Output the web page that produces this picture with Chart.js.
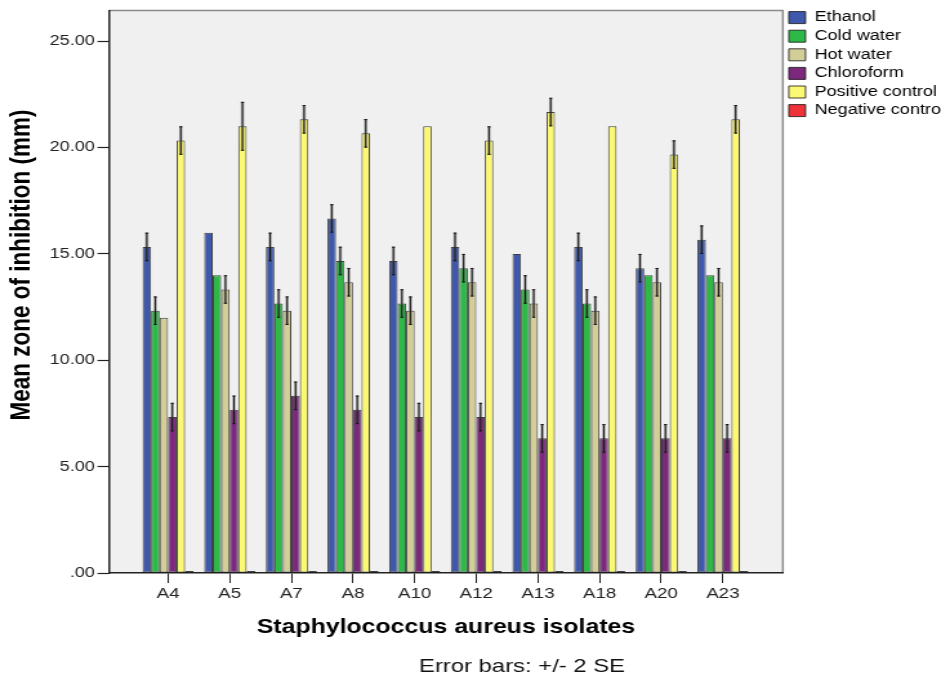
<!DOCTYPE html>
<html>
<head>
<meta charset="utf-8">
<script src="https://cdn.jsdelivr.net/npm/chart.js@4.4.1/dist/chart.umd.min.js"></script>
<style>
    html, body { margin: 0; padding: 0; background: #fff; overflow: hidden; }
    /* the reference is a horizontally stretched SPSS export, so stretch the canvas the same way */
    #wrap { width: 730px; height: 681px; transform: scaleX(1.289); transform-origin: 0 0; }
</style>
</head>
<body>
<div id="wrap"><canvas id="chart" width="730" height="681"></canvas></div>
<script>
const isolates = ['A4', 'A5', 'A7', 'A8', 'A10', 'A12', 'A13', 'A18', 'A20', 'A23'];
const seriesNames = ['Ethanol', 'Cold water', 'Hot water', 'Chloroform', 'Positive control', 'Negative contro'];

// mean zone of inhibition (mm)
const ethanol    = [15.33, 16.00, 15.33, 16.67, 14.67, 15.33, 15.00, 15.33, 14.33, 15.67];
const coldWater  = [12.33, 14.00, 12.67, 14.67, 12.67, 14.33, 13.33, 12.67, 14.00, 14.00];
const hotWater   = [12.00, 13.33, 12.33, 13.67, 12.33, 13.67, 12.67, 12.33, 13.67, 13.67];
const chloroform = [7.33, 7.67, 8.33, 7.67, 7.33, 7.33, 6.33, 6.33, 6.33, 6.33];
const positive   = [20.33, 21.00, 21.33, 20.67, 21.00, 20.33, 21.67, 21.00, 19.67, 21.33];
const negative   = [0, 0, 0, 0, 0, 0, 0, 0, 0, 0];

// +/- 2 SE
const ethanolErr    = [0.67, 0, 0.67, 0.67, 0.67, 0.67, 0, 0.67, 0.67, 0.67];
const coldWaterErr  = [0.67, 0, 0.67, 0.67, 0.67, 0.67, 0.67, 0.67, 0, 0];
const hotWaterErr   = [0, 0.67, 0.67, 0.67, 0.67, 0.67, 0.67, 0.67, 0.67, 0.67];
const chloroformErr = [0.67, 0.67, 0.67, 0.67, 0.67, 0.67, 0.67, 0.67, 0.67, 0.67];
const positiveErr   = [0.67, 1.15, 0.67, 0.67, 0, 0.67, 0.67, 0, 0.67, 0.67];
const negativeErr   = [0, 0, 0, 0, 0, 0, 0, 0, 0, 0];

const yTicks = [0, 5, 10, 15, 20, 25];

const colors = ['#3E58AC', '#2EB848', '#D3CE97', '#7C287D', '#FBF873', '#EF3338'];
const FONT = "'Liberation Sans', Arial, sans-serif";

const seriesValues = [ethanol, coldWater, hotWater, chloroform, positive, negative];
const seriesErrors = [ethanolErr, coldWaterErr, hotWaterErr, chloroformErr, positiveErr, negativeErr];

const datasets = seriesNames.map((name, d) => ({
    label: name,
    data: seriesValues[d].map((v, i) => ({ x: i, y: v })),
    errors: seriesErrors[d],
    backgroundColor: colors[d],
    borderColor: 'rgba(20, 20, 20, 0.8)',
    borderWidth: 1,
    borderSkipped: false,
    minBarLength: d === 5 ? 2 : 0,
    categoryPercentage: 0.827,
    barPercentage: 1,
}));

// gray plot background + light top/right frame
const plotFrame = {
    id: 'plotFrame',
    beforeDraw: (chart) => {
        const { ctx, chartArea: a } = chart;
        ctx.save();
        ctx.fillStyle = '#F0F0F0';
        ctx.fillRect(a.left, a.top, a.right - a.left, a.bottom - a.top);
        ctx.strokeStyle = '#8a8a8a';
        ctx.lineWidth = 1.5;
        ctx.beginPath();
        ctx.moveTo(a.left, a.top);
        ctx.lineTo(a.right, a.top);
        ctx.lineTo(a.right, a.bottom);
        ctx.stroke();
        ctx.restore();
    }
};

const errorBars = {
    id: 'errorBars',
    afterDatasetsDraw: (chart) => {
        const { ctx, scales: { y } } = chart;
        ctx.save();
        chart.data.datasets.forEach((ds, d) => {
            const meta = chart.getDatasetMeta(d);
            meta.data.forEach((bar, i) => {
                const err = ds.errors[i];
                if (!err) return;
                const value = ds.data[i].y;
                const top = y.getPixelForValue(value + err);
                const bottom = y.getPixelForValue(value - err);
                // soft halo first, then the dark line
                ctx.strokeStyle = 'rgba(90, 90, 90, 0.45)';
                ctx.lineWidth = 2.6;
                ctx.beginPath();
                ctx.moveTo(bar.x, top);
                ctx.lineTo(bar.x, bottom);
                ctx.stroke();
                ctx.strokeStyle = '#151515';
                ctx.lineWidth = 1;
                ctx.beginPath();
                ctx.moveTo(bar.x, top);
                ctx.lineTo(bar.x, bottom);
                ctx.moveTo(bar.x - 1.2, top + 0.5);
                ctx.lineTo(bar.x + 1.2, top + 0.5);
                ctx.moveTo(bar.x - 1.2, bottom - 0.5);
                ctx.lineTo(bar.x + 1.2, bottom - 0.5);
                ctx.stroke();
            });
        });
        ctx.restore();
    }
};

// y title (sits a bit above the plot centre) and the footer note
const extraText = {
    id: 'extraText',
    afterDraw: (chart) => {
        const { ctx } = chart;
        ctx.save();
        ctx.fillStyle = '#000';
        ctx.textAlign = 'center';
        ctx.textBaseline = 'middle';
        ctx.translate(17, 265);
        ctx.rotate(-Math.PI / 2);
        ctx.font = `bold 22.5px ${FONT}`;
        ctx.fillText('Mean zone of inhibition (mm)', 0, 0);
        ctx.restore();

        ctx.save();
        ctx.fillStyle = '#111';
        ctx.textAlign = 'center';
        ctx.textBaseline = 'middle';
        ctx.font = `18.5px ${FONT}`;
        ctx.fillText('Error bars: +/- 2 SE', 405, 667);
        ctx.restore();
    }
};

new Chart(document.getElementById('chart'), {
    type: 'bar',
    data: { datasets },
    plugins: [plotFrame, errorBars, extraText],
    options: {
        responsive: false,
        devicePixelRatio: 1,
        animation: false,
        layout: { padding: { top: 6, right: -10, bottom: 0, left: 0 } },
        plugins: {
            legend: {
                position: 'right',
                align: 'start',
                labels: {
                    boxWidth: 13,
                    boxHeight: 12,
                    padding: 4.6,
                    color: '#000',
                    font: { family: FONT, size: 14 },
                },
            },
            tooltip: { enabled: false },
        },
        scales: {
            x: {
                type: 'linear',
                bounds: 'data',
                offset: false,
                min: -0.957,
                max: 9.973,
                afterBuildTicks: (scale) => {
                    scale.ticks = isolates.map((_, i) => ({ value: i }));
                },
                afterFit: (scale) => { scale.height = 108; },
                ticks: {
                    autoSkip: false,
                    maxRotation: 0,
                    padding: 2,
                    color: '#222',
                    font: { family: FONT, size: 14.5 },
                    callback: (value) => isolates[value],
                },
                grid: { offset: false, drawOnChartArea: false, tickLength: 10, color: '#222', tickWidth: 1 },
                border: { display: true, color: '#222', width: 1.5 },
                title: {
                    display: true,
                    text: 'Staphylococcus aureus isolates',
                    color: '#000',
                    font: { family: FONT, size: 19.3, weight: 'bold' },
                    padding: { top: 0, bottom: 41.6 },
                },
            },
            y: {
                bounds: 'data',
                min: 0,
                max: 26.45,
                afterFit: (scale) => { scale.width = 84.6; },
                afterBuildTicks: (scale) => {
                    scale.ticks = yTicks.map((v) => ({ value: v }));
                },
                ticks: {
                    padding: 2,
                    color: '#222',
                    font: { family: FONT, size: 14 },
                    callback: (value) => value === 0 ? '.00' : value.toFixed(2),
                },
                grid: { drawOnChartArea: false, tickLength: 9, color: '#222', tickWidth: 1.2 },
                border: { display: true, color: '#222', width: 1.5 },
            },
        },
    },
});
</script>
</body>
</html>
